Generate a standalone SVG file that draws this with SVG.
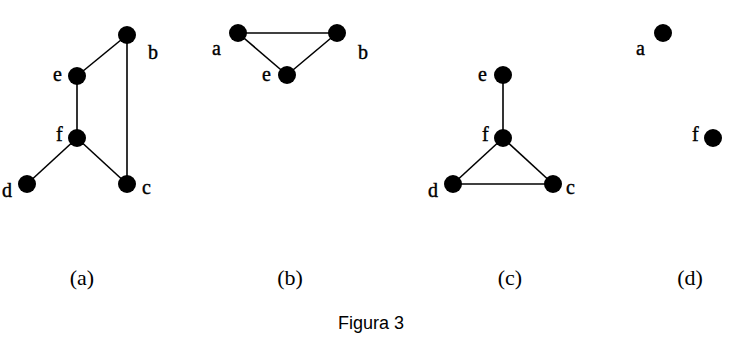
<svg xmlns="http://www.w3.org/2000/svg" width="741" height="338" viewBox="0 0 741 338">
<style>
.n{fill:#000}
.e{stroke:#000;stroke-width:1.6;fill:none}
.l{font-family:"Liberation Serif",serif;font-size:20px;fill:#000;stroke:#000;stroke-width:0.4}
.cap{font-family:"Liberation Serif",serif;font-size:22px;fill:#000;text-anchor:middle}
.fig{font-family:"Liberation Sans",Arial,sans-serif;font-size:18px;fill:#000;text-anchor:middle}
</style>
<rect width="741" height="338" fill="#fff"/>
<g id="connectors">
<line class="e" x1="127" y1="35" x2="77" y2="76"/>
<line class="e" x1="127" y1="35" x2="127" y2="184"/>
<line class="e" x1="77" y1="76" x2="77" y2="138"/>
<line class="e" x1="77" y1="138" x2="27" y2="184"/>
<line class="e" x1="77" y1="138" x2="127" y2="184"/>
<line class="e" x1="238" y1="33" x2="337" y2="33"/>
<line class="e" x1="238" y1="33" x2="287" y2="75"/>
<line class="e" x1="337" y1="33" x2="287" y2="75"/>
<line class="e" x1="503" y1="75" x2="503" y2="138"/>
<line class="e" x1="503" y1="138" x2="453" y2="184"/>
<line class="e" x1="503" y1="138" x2="553" y2="184"/>
<line class="e" x1="453" y1="184" x2="553" y2="184"/>
</g>
<g id="a-b"><circle class="n" cx="127" cy="35" r="9"/><text class="l" x="148" y="59">b</text></g>
<g id="a-e"><circle class="n" cx="77" cy="76" r="9"/><text class="l" x="53" y="81">e</text></g>
<g id="a-f"><circle class="n" cx="77" cy="138" r="9"/><text class="l" x="56" y="141">f</text></g>
<g id="a-d"><circle class="n" cx="27" cy="184" r="9"/><text class="l" x="2" y="197">d</text></g>
<g id="a-c"><circle class="n" cx="127" cy="184" r="9"/><text class="l" x="142" y="194">c</text></g>
<g id="b-a"><circle class="n" cx="238" cy="33" r="9"/><text class="l" x="212" y="55">a</text></g>
<g id="b-b"><circle class="n" cx="337" cy="33" r="9"/><text class="l" x="358" y="59">b</text></g>
<g id="b-e"><circle class="n" cx="287" cy="75" r="9"/><text class="l" x="262" y="81">e</text></g>
<g id="c-e"><circle class="n" cx="503" cy="75" r="9"/><text class="l" x="478" y="81">e</text></g>
<g id="c-f"><circle class="n" cx="503" cy="138" r="9"/><text class="l" x="482" y="141">f</text></g>
<g id="c-d"><circle class="n" cx="453" cy="184" r="9"/><text class="l" x="428" y="197">d</text></g>
<g id="c-c"><circle class="n" cx="553" cy="184" r="9"/><text class="l" x="566" y="194">c</text></g>
<g id="d-a"><circle class="n" cx="663" cy="33" r="9"/><text class="l" x="636" y="55">a</text></g>
<g id="d-f"><circle class="n" cx="713" cy="138" r="9"/><text class="l" x="692" y="141">f</text></g>
<text class="cap" x="82" y="285">(a)</text>
<text class="cap" x="290" y="285">(b)</text>
<text class="cap" x="510" y="285">(c)</text>
<text class="cap" x="690" y="285">(d)</text>
<text class="fig" x="371" y="329">Figura 3</text>
</svg>
